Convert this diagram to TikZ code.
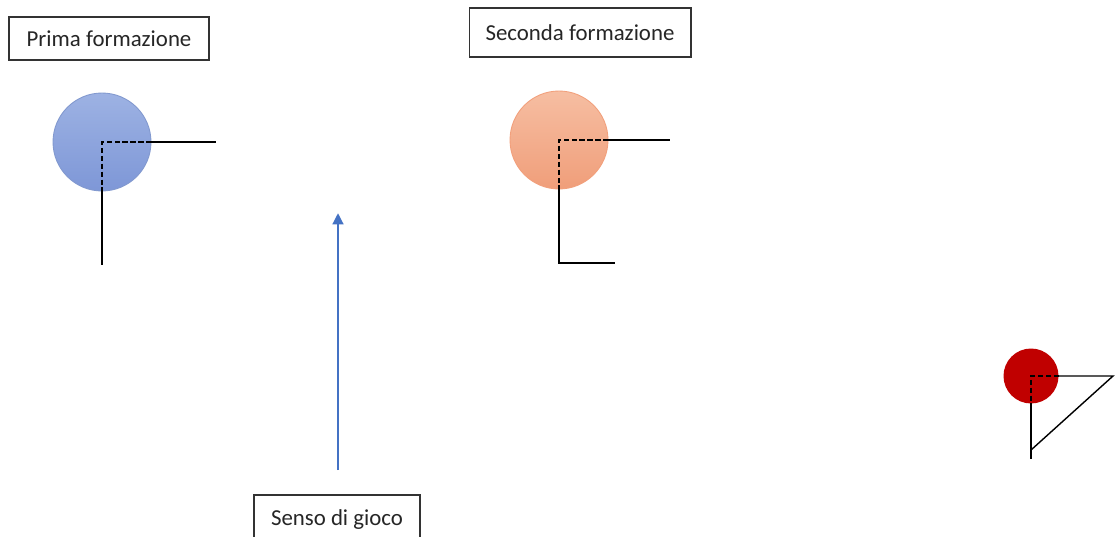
\documentclass[tikz,border=0pt]{standalone}
\usepackage{fontspec}
\setmainfont{Carlito}
\usetikzlibrary{arrows.meta}
\definecolor{bluetop}{HTML}{9DB2E3}
\definecolor{bluebot}{HTML}{7E97D7}
\definecolor{blueedge}{HTML}{8299CF}
\definecolor{orangetop}{HTML}{F6BEA2}
\definecolor{orangebot}{HTML}{F09E7A}
\definecolor{orangeedge}{HTML}{F2A07C}
\definecolor{redfill}{HTML}{C00000}
\definecolor{arrowblue}{HTML}{4472C4}
\begin{document}
\begin{tikzpicture}[x=0.02cm,y=-0.02cm,
        label box/.style={draw=black!80,line width=0.6pt,inner sep=0pt,text=black!85,font=\fontsize{13}{15}\selectfont},
        player/.style={circle,inner sep=0pt,line width=0.5pt},
        dashline/.style={line width=0.8pt,dash pattern=on 3pt off 1.5pt},
        solidline/.style={line width=0.8pt},
        flow arrow/.style={arrowblue,line width=1.7pt,-{Triangle[length=6.5pt,width=6pt]}}]
        \clip (0,0) rectangle (1115,537);
        \fill [white] (0,0) rectangle (1115,537);
        % labels
        \node [label box,minimum width=4cm,minimum height=0.86cm] (prima) at (109,38.5) {Prima formazione};
        \node [label box,minimum width=4.44cm,minimum height=0.98cm] (seconda) at (580,32.5) {Seconda formazione};
        \node [label box,minimum width=3.32cm,minimum height=1cm] (senso) at (337,520) {Senso di gioco};
        % players
        \node [player,minimum size=1.96cm,draw=blueedge,top color=bluetop,bottom color=bluebot] (blue) at (102,142) {};
        \node [player,minimum size=1.96cm,draw=orangeedge,top color=orangetop,bottom color=orangebot] (orange) at (559,140) {};
        \node [player,minimum size=1.1cm,fill=redfill] (red) at (1031,376) {};
        % free ends
        \coordinate (blue r) at (216,142);
        \coordinate (blue d) at (102,265);
        \coordinate (orange r) at (670,140);
        \coordinate (orange d) at (559,263);
        \coordinate (orange dr) at (615,263);
        \coordinate (red r) at (1113,376);
        \coordinate (red tip) at (1031,450);
        \coordinate (red d) at (1031,459);
        \coordinate (arrow start) at (338,470);
        \coordinate (arrow end) at (338,213);
        % lines
        \draw [dashline] (blue.east) -- (blue.center) -- (blue.south);
        \draw [solidline] (blue.east) -- (blue r);
        \draw [solidline] (blue.south) -- (blue d);
        \draw [dashline] (orange.east) -- (orange.center) -- (orange.south);
        \draw [solidline] (orange.east) -- (orange r);
        \draw [solidline] (orange.south) -- (orange d) -- (orange dr);
        \draw [dashline] (red.east) -- (red.center) -- (red.south);
        \draw [solidline] (red.east) -- (red r) -- (red tip);
        \draw [solidline] (red.south) -- (red d);
        \draw [flow arrow] (arrow start) -- (arrow end);
\end{tikzpicture}
\end{document}
